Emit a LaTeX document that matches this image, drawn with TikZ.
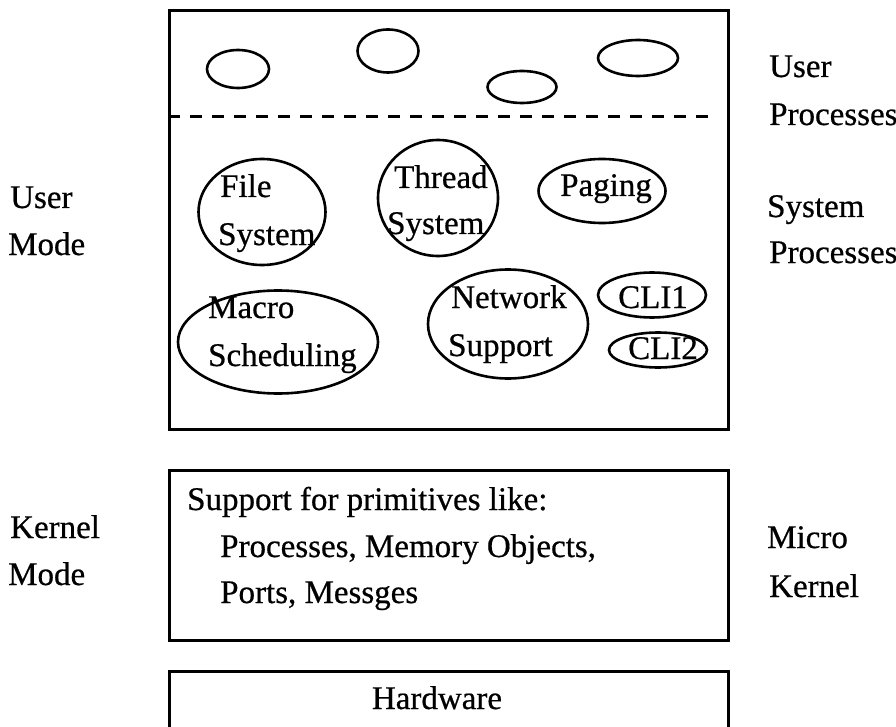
\documentclass[tikz,border=0pt]{standalone}
\usepackage{fontspec}
\setmainfont{Liberation Serif}[FakeBold=0.6]
\usetikzlibrary{shapes.geometric}
\begin{document}
\begin{tikzpicture}[x=1pt,y=-1pt,
  layerbox/.style={draw, line width=3pt, anchor=north west, inner sep=0pt},
  proc/.style={draw, ellipse, line width=2.6pt, inner sep=0pt},
  lbl/.style={anchor=base west, inner sep=0pt, font=\fontsize{33}{40}\selectfont},
  divider/.style={line width=3pt, dash pattern=on 12pt off 10pt},
]
\useasboundingbox (0,0) rectangle (896,727);
\clip (0,0) rectangle (896,727);

% layers
\node[layerbox, minimum width=559pt, minimum height=419pt] (userlayer) at (168,9) {};
\node[layerbox, minimum width=559pt, minimum height=170pt] (kernellayer) at (168,469) {};
\node[layerbox, minimum width=559pt, minimum height=100pt] (hwlayer) at (168,670) {};

% user / system boundary
\coordinate (divL) at (168,117);
\coordinate (divR) at (712,117);
\draw[divider] (divL) -- (divR);

% user processes
\node[proc, minimum width=62pt, minimum height=38pt] (up1) at (238,69) {};
\node[proc, minimum width=61pt, minimum height=43pt] (up2) at (388,51) {};
\node[proc, minimum width=69pt, minimum height=32pt] (up3) at (522,87) {};
\node[proc, minimum width=80pt, minimum height=36pt] (up4) at (638,58) {};

% system processes
\node[proc, minimum width=127pt, minimum height=106pt] (fs) at (262,212) {};
\node[proc, minimum width=120pt, minimum height=116pt] (ts) at (438,198) {};
\node[proc, minimum width=127pt, minimum height=64pt] (pg) at (602,191) {};
\node[proc, minimum width=200pt, minimum height=103pt] (ms) at (278,342) {};
\node[proc, minimum width=160pt, minimum height=109pt] (ns) at (508,324) {};
\node[proc, minimum width=108pt, minimum height=45pt] (c1) at (652,295) {};
\node[proc, minimum width=98pt, minimum height=35pt] (c2) at (658,350) {};

\node[lbl] (fsA) at (220,197) {File};
\node[lbl] (fsB) at (218,245) {System};
\node[lbl] (tsA) at (394,188) {Thread};
\node[lbl] (tsB) at (387,234) {System};
\node[lbl] (pgA) at (560,196) {Paging};
\node[lbl] (msA) at (208,318) {Macro};
\node[lbl] (msB) at (208,366) {Scheduling};
\node[lbl] (nsA) at (451,308) {Network};
\node[lbl] (nsB) at (448,356) {Support};
\node[lbl] (c1A) at (618,308) {CLI1};
\node[lbl] (c2A) at (628,359) {CLI2};

% micro kernel contents
\node[lbl] (kA) at (187,510) {Support for primitives like:};
\node[lbl] (kB) at (220,557) {Processes, Memory Objects,};
\node[lbl] (kC) at (220,603) {Ports, Messges};
\node[lbl, anchor=base] (hw) at (437,709) {Hardware};

% side labels
\node[lbl] (lu1) at (10,208) {User};
\node[lbl] (lu2) at (8,255) {Mode};
\node[lbl] (lk1) at (10,538) {Kernel};
\node[lbl] (lk2) at (8,585) {Mode};
\node[lbl] (ru1) at (769,77) {User};
\node[lbl] (ru2) at (769,125) {Processes};
\node[lbl] (rs1) at (767,217) {System};
\node[lbl] (rs2) at (769,263) {Processes};
\node[lbl] (rm1) at (767,548) {Micro};
\node[lbl] (rm2) at (769,597) {Kernel};
\end{tikzpicture}
\end{document}
